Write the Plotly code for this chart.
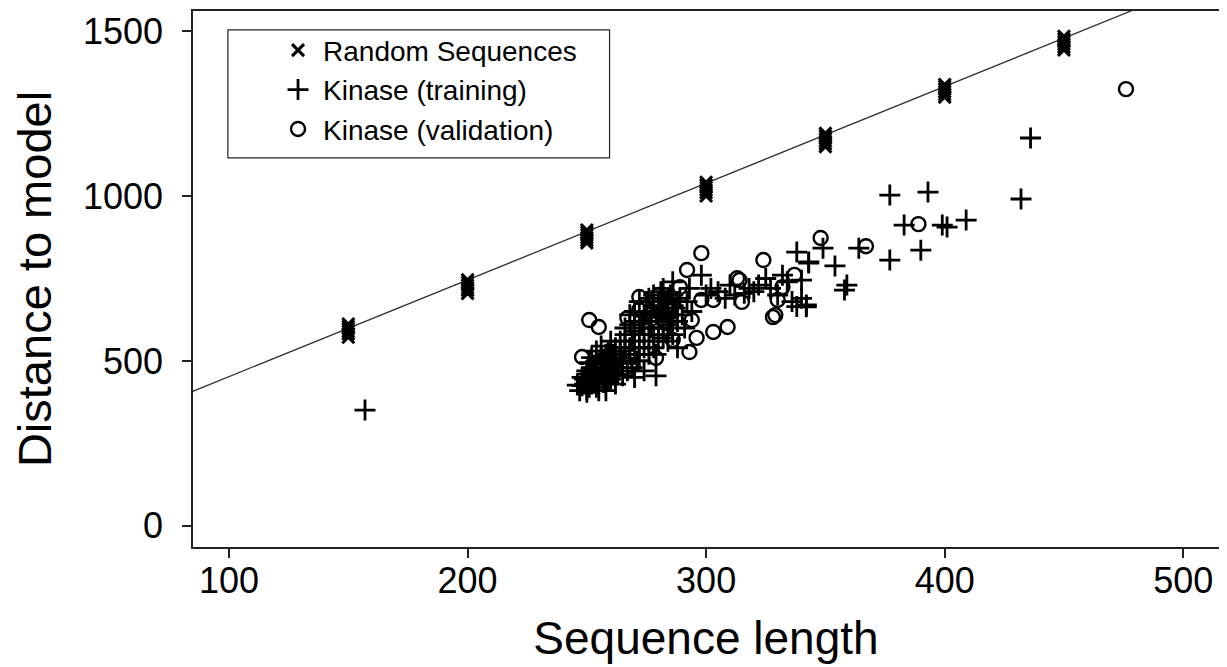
import plotly.graph_objs as go

# random sequences: lengths and distances (several samples per length)
RANDOM_LEN = [150] * 6 + [200] * 6 + [250] * 6 + [300] * 6 + [350] * 6 + [400] * 6 + [450] * 6
RANDOM_DIST = [
    572, 582, 590, 598, 605, 612,
    705, 714, 722, 730, 738, 746,
    858, 866, 874, 882, 890, 897,
    1000, 1010, 1018, 1026, 1034, 1042,
    1150, 1158, 1166, 1174, 1182, 1190,
    1300, 1308, 1316, 1324, 1332, 1338,
    1443, 1452, 1460, 1468, 1476, 1484,
]

# kinase training set (+)
TRAIN_LEN = [
    157, 246, 248, 250, 251, 252, 253, 254, 255, 256, 257, 258, 250, 252, 254, 256, 258, 259,
    260, 261, 262, 255, 257, 259, 260, 253, 249, 251, 261, 263, 264, 262,
    247, 249, 251, 253, 255, 257, 259, 261, 263, 250, 252, 254, 256, 258, 260, 262, 264, 266,
    248, 250, 254, 256, 258, 260, 262,
    265, 266, 267, 268, 269, 270, 271, 272, 273, 274, 275, 276, 277, 278, 279, 280,
    266, 268, 270, 272, 274, 276, 278, 280, 265, 269, 279, 270,
    268, 270, 272, 274, 276, 278, 280, 282, 284, 286, 270, 272, 274, 276, 278, 280, 282, 284,
    286, 288, 264, 266, 268, 270, 275, 277, 279, 281, 283, 285,
    281, 282, 283, 284, 285, 286, 287, 288, 289, 290, 282, 284, 286, 291, 292, 293, 294, 288,
    298, 300, 302, 305, 308, 310, 312, 316, 318, 320, 322, 325, 327, 330, 332, 334, 336, 338,
    340, 342, 343, 338,
    436, 377, 393, 432, 383, 399, 401, 409, 349, 364, 377, 390, 354, 359, 358, 342, 343, 340,
]
TRAIN_DIST = [
    351, 427, 425, 415, 440, 430, 455, 420, 445, 470, 435, 490, 460, 480, 500, 515, 455, 470,
    500, 520, 540, 410, 505, 530, 445, 475, 445, 495, 480, 460, 510, 430,
    410, 430, 420, 440, 430, 450, 440, 460, 480, 470, 510, 530, 545, 520, 560, 500, 530, 520,
    450, 405, 470, 490, 410, 470, 455,
    500, 540, 470, 520, 560, 590, 500, 540, 620, 580, 640, 560, 600, 660, 520, 620,
    580, 610, 650, 680, 470, 690, 700, 560, 455, 480, 455, 450,
    540, 560, 600, 640, 620, 580, 680, 660, 690, 640, 520, 500, 540, 520, 540, 600, 570, 610,
    700, 680, 560, 600, 640, 620, 680, 650, 640, 710, 650, 620,
    650, 600, 680, 630, 700, 580, 660, 620, 690, 640, 720, 560, 740, 600, 680, 720, 650, 540,
    760, 700, 720, 710, 690, 730, 700, 705, 720, 710, 730, 750, 720, 700, 760, 740, 680, 665,
    690, 670, 800, 830,
    1176, 1003, 1012, 991, 912, 912, 906, 927, 842, 842, 806, 836, 788, 730, 715, 664, 797, 745,
]

# kinase validation set (o)
VALID_LEN = [
    476, 389, 348, 367, 298, 324, 337, 313, 298, 303, 329, 294, 309, 292, 315, 330, 332,
    251, 255, 248, 272, 280, 272, 267, 271, 279, 266, 289, 283, 286, 303, 296, 293, 314, 328,
]
VALID_DIST = [
    1324, 915, 873, 848, 827, 806, 761, 751, 685, 685, 639, 624, 603, 776, 679, 685, 724,
    624, 603, 512, 694, 700, 655, 630, 600, 509, 479, 724, 615, 564, 588, 570, 527, 745, 633,
]

# fitted line end points
FIT_X = [80, 520]
FIT_Y = [394, 1684]

FONT = "Liberation Sans, Arial, sans-serif"

fig = go.Figure()

fig.add_trace(go.Scatter(
    x=FIT_X, y=FIT_Y, mode="lines", showlegend=False,
    line=dict(color="#333333", width=1.3), hoverinfo="skip",
))
fig.add_trace(go.Scatter(
    x=RANDOM_LEN, y=RANDOM_DIST, mode="markers", name="Random Sequences",
    marker=dict(symbol="x-thin", size=12, line=dict(color="black", width=3)),
))
fig.add_trace(go.Scatter(
    x=TRAIN_LEN, y=TRAIN_DIST, mode="markers", name="Kinase (training)",
    marker=dict(symbol="cross-thin", size=15, line=dict(color="black", width=2.8)),
))
fig.add_trace(go.Scatter(
    x=VALID_LEN, y=VALID_DIST, mode="markers", name="Kinase (validation)",
    marker=dict(symbol="circle-open", size=14, color="black", line=dict(color="black", width=2.4)),
))

axis_common = dict(
    showgrid=False, zeroline=False, showline=True, mirror=True,
    linecolor="#222222", linewidth=1.5, automargin=False,
    ticks="outside", ticklen=9, tickwidth=1.5, tickcolor="#222222",
    tickfont=dict(family=FONT, size=36, color="black"),
)

# page body adds 8px around the figure, margins account for it
fig.update_layout(
    width=1227, height=667,
    margin=dict(l=185, r=16, t=3, b=128),
    paper_bgcolor="white", plot_bgcolor="white",
    font=dict(family=FONT, color="black"),
    xaxis=dict(
        range=[84.9, 515], tickvals=[100, 200, 300, 400, 500], ticklabelstandoff=-8,
        title=dict(text="Sequence length", font=dict(family=FONT, size=46), standoff=22),
        **axis_common,
    ),
    yaxis=dict(
        range=[-64, 1561], tickvals=[0, 500, 1000, 1500], ticklabelstandoff=12,
        title=dict(text="Distance to model", font=dict(family=FONT, size=47), standoff=30),
        **axis_common,
    ),
    legend=dict(
        x=0.078, y=0.973, xanchor="left", yanchor="top",
        bgcolor="rgba(0,0,0,0)", borderwidth=0,
        font=dict(family=FONT, size=28), itemwidth=40,
        tracegroupgap=0,
    ),
    showlegend=True,
)

# legend frame
fig.add_shape(
    type="rect", xref="paper", yref="paper",
    x0=0.034, x1=0.406, y0=0.726, y1=0.9646,
    line=dict(color="#222222", width=1.2),
)

fig.write_html("out.html")
